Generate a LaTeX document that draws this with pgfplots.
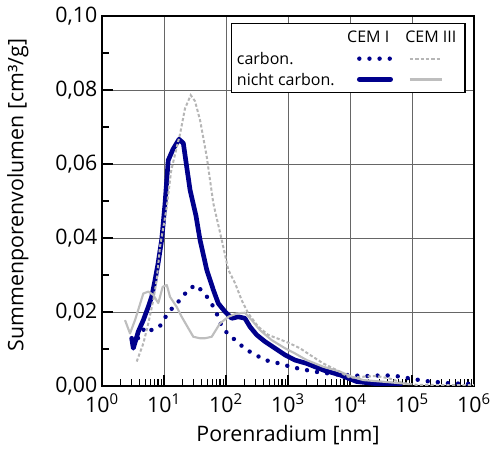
\documentclass[border=0pt]{standalone}
\usepackage{pgfplots}
\pgfplotsset{compat=1.18}
\usepackage{fontspec}
\setmainfont{Open Sans}
\definecolor{navy}{RGB}{0,0,140}
\definecolor{lgray}{RGB}{190,190,190}
\definecolor{dgray}{RGB}{182,182,182}
\begin{document}
\begin{tikzpicture}
\begin{axis}[
  name=ax, at={(0,0)}, anchor=south west,
  scale only axis, width=279pt, height=277.5pt,
  xmode=log, log basis x=10,
  xmin=1, xmax=1e6, ymin=0, ymax=0.10,
  xtick={1,10,100,1000,10000,100000,1000000},
  minor xtick={2,3,4,5,6,7,8,9,20,30,40,50,60,70,80,90,200,300,400,500,600,700,800,900,2000,3000,4000,5000,6000,7000,8000,9000,20000,30000,40000,50000,60000,70000,80000,90000,200000,300000,400000,500000,600000,700000,800000,900000},
  xticklabels={10\textsuperscript{0},10\textsuperscript{1},10\textsuperscript{2},10\textsuperscript{3},10\textsuperscript{4},10\textsuperscript{5},10\textsuperscript{6}},
  ytick={0,0.02,0.04,0.06,0.08,0.1},
  minor ytick={0.01,0.03,0.05,0.07,0.09},
  scaled y ticks=false,
  yticklabel style={/pgf/number format/fixed, /pgf/number format/fixed zerofill, /pgf/number format/precision=2, /pgf/number format/use comma, /pgf/number format/assume math mode=true},
  xtick pos=bottom, ytick pos=left, xtick align=inside, ytick align=inside,
  grid=major, major grid style={black!60, line width=0.6pt},
  axis line style={line width=1.2pt},
  every tick/.style={black, line width=0.9pt},
  major tick length=8pt, minor tick length=5pt,
  tick label style={font=\fontsize{16}{19}\selectfont},
  xticklabel style={yshift=-2pt},
  label style={font=\fontsize{16}{19}\selectfont},
  xlabel={Porenradium [nm]}, ylabel={Summenporenvolumen [cm³/g]},
  xlabel style={at={(axis description cs:0.5,-0.132)}, anchor=center},
  ylabel style={at={(axis description cs:-0.226,0.516)}, anchor=center},
]
% CEM I nicht carbon.
\addplot[navy, mark=none, line width=3.5pt, line join=round, line cap=round] coordinates {
(3.01,0.0129) (3.20,0.0102) (3.85,0.0147) (4.64,0.0178) (5.58,0.0214) (6.33,0.0241)
(7.16,0.0286) (8.00,0.0330) (9.18,0.0395) (10.4,0.0494) (11.7,0.0610) (14.0,0.0640)
(17.5,0.0667) (20.5,0.0656) (26.3,0.0530) (32.8,0.0460) (38.1,0.0395) (48.9,0.0314)
(62.4,0.0260) (75.2,0.0223) (96.4,0.0201) (124,0.0183) (158,0.0187) (202,0.0183)
(244,0.0160) (313,0.0138) (426,0.0120) (617,0.0102) (895,0.0084) (1297,0.0070)
(2003,0.0061) (3707,0.0043) (6899,0.0030) (9397,0.0021) (12830,0.0012) (23770,0.0007)
(44190,0.0005) (64500,0.0003)
};
% CEM I carbon.
\addplot[navy, mark=none, line width=3.3pt, line cap=round, dash pattern=on 0pt off 7.6pt] coordinates {
(3.20,0.0105) (4.10,0.0140) (5.13,0.0160) (6.33,0.0151) (8.62,0.0162) (10.8,0.0189)
(14.1,0.0214) (18.8,0.0235) (24.7,0.0261) (32.8,0.0273) (45.8,0.0249) (58.8,0.0222)
(70.8,0.0196) (80.0,0.0171) (103,0.0144) (143,0.0123) (208,0.0099) (301,0.0084)
(426,0.0070) (617,0.0064) (871,0.0057) (1217,0.0050) (1766,0.0045) (2560,0.0039)
(3707,0.0036) (5320,0.0032) (7710,0.0030) (11060,0.0029) (15630,0.0027) (22390,0.0027)
(32460,0.0029) (47080,0.0028) (68230,0.0025) (98860,0.0019) (134600,0.0016)
(195000,0.0012) (283100,0.0010) (410200,0.0007) (918000,0.0006)
};
% CEM III nicht carbon.
\addplot[lgray, mark=none, line width=1.6pt, line join=round] coordinates {
(2.35,0.0178) (2.83,0.0142) (3.41,0.0178) (4.64,0.0250) (5.58,0.0255) (6.72,0.0246)
(8.09,0.0224) (9.53,0.0268) (11.1,0.0273) (12.5,0.0241) (16.0,0.0214) (19.3,0.0187)
(24.7,0.0156) (29.7,0.0133) (38.1,0.0129) (45.8,0.0129) (58.8,0.0133) (80.0,0.0169)
(109,0.0187) (149,0.0196) (202,0.0198) (260,0.0178) (353,0.0151) (546,0.0124)
(895,0.0102) (1297,0.0088) (2003,0.0070) (3707,0.0052) (6899,0.0039) (10640,0.0025)
(16400,0.0016) (44190,0.0010) (92900,0.0005)
};
% CEM III carbon.
\addplot[dgray, mark=none, line width=1.5pt, dash pattern=on 2.4pt off 1.6pt] coordinates {
(3.63,0.0066) (4.64,0.0115) (5.58,0.0169) (6.72,0.0232) (7.62,0.0286) (8.62,0.0376)
(11.1,0.0484) (13.0,0.0580) (15.0,0.0625) (18.1,0.0680) (21.8,0.0750) (27.0,0.0786)
(31.6,0.0770) (38.1,0.0719) (48.9,0.0620) (62.4,0.0494) (85.3,0.0395) (109,0.0314)
(140,0.0278) (179,0.0232) (229,0.0196) (332,0.0160) (481,0.0138) (791,0.0124)
(1077,0.0115) (1563,0.0102) (2264,0.0084) (3707,0.0061) (6100,0.0043) (10000,0.0022)
(16400,0.0025) (26980,0.0027) (44190,0.0020) (71610,0.0008) (119100,0.0003) (1000000,0.0002)
};
\end{axis}
% legend
\draw[fill=white, line width=0.9pt] (97.3pt,220pt) rectangle (272.25pt,272pt);
\node[font=\fontsize{12}{14}\selectfont, inner sep=0pt] at (199.7pt,262pt) {CEM I};
\node[font=\fontsize{12}{14}\selectfont, inner sep=0pt] at (246.6pt,262pt) {CEM III};
\node[font=\fontsize{12}{14}\selectfont, anchor=west, inner sep=0pt] at (101pt,245.3pt) {carbon.};
\node[font=\fontsize{12}{14}\selectfont, anchor=west, inner sep=0pt] at (101pt,230.1pt) {nicht carbon.};
\draw[navy, line width=3.3pt, line cap=round, dash pattern=on 0pt off 7.6pt] (193pt,245.5pt) -- (217pt,245.5pt);
\draw[navy, line width=3.5pt, line cap=round] (193pt,229.9pt) -- (216.5pt,229.9pt);
\draw[dgray, line width=1.5pt, dash pattern=on 2.4pt off 1.6pt] (231pt,245.5pt) -- (254.8pt,245.5pt);
\draw[lgray, line width=1.6pt] (231pt,229.9pt) -- (254.8pt,229.9pt);
\pgfresetboundingbox
\path (-76.5pt,-54.75pt) rectangle (294pt,289.5pt);
\end{tikzpicture}
\end{document}
